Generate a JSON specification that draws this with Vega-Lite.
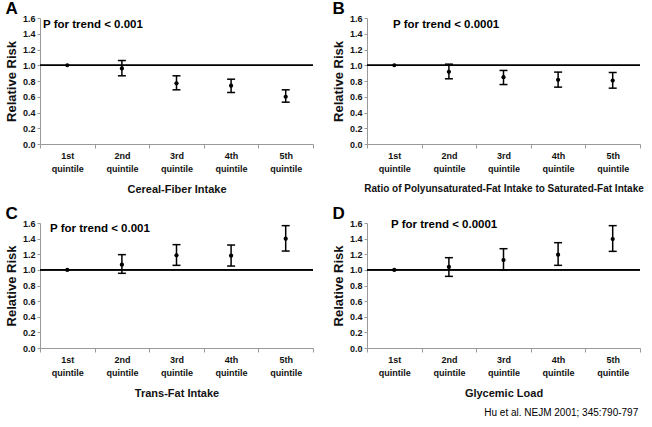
{
  "$schema": "https://vega.github.io/schema/vega-lite/v6.json",
  "background": "white",
  "padding": {"left": 5, "top": 0, "right": 2, "bottom": 4},
  "datasets": {
    "rr": [
      {"panel": "A", "q": "1st quintile", "rr": 1.0, "lo": null, "hi": null},
      {"panel": "A", "q": "2nd quintile", "rr": 0.96, "lo": 0.866, "hi": 1.06},
      {"panel": "A", "q": "3rd quintile", "rr": 0.77, "lo": 0.688, "hi": 0.866},
      {"panel": "A", "q": "4th quintile", "rr": 0.74, "lo": 0.654, "hi": 0.823},
      {"panel": "A", "q": "5th quintile", "rr": 0.60, "lo": 0.531, "hi": 0.688},
      {"panel": "B", "q": "1st quintile", "rr": 1.0, "lo": null, "hi": null},
      {"panel": "B", "q": "2nd quintile", "rr": 0.917, "lo": 0.828, "hi": 1.014},
      {"panel": "B", "q": "3rd quintile", "rr": 0.849, "lo": 0.755, "hi": 0.934},
      {"panel": "B", "q": "4th quintile", "rr": 0.815, "lo": 0.722, "hi": 0.913},
      {"panel": "B", "q": "5th quintile", "rr": 0.806, "lo": 0.709, "hi": 0.908},
      {"panel": "C", "q": "1st quintile", "rr": 1.0, "lo": null, "hi": null},
      {"panel": "C", "q": "2nd quintile", "rr": 1.067, "lo": 0.956, "hi": 1.195},
      {"panel": "C", "q": "3rd quintile", "rr": 1.186, "lo": 1.058, "hi": 1.323},
      {"panel": "C", "q": "4th quintile", "rr": 1.182, "lo": 1.049, "hi": 1.318},
      {"panel": "C", "q": "5th quintile", "rr": 1.399, "lo": 1.241, "hi": 1.566},
      {"panel": "D", "q": "1st quintile", "rr": 1.0, "lo": null, "hi": null},
      {"panel": "D", "q": "2nd quintile", "rr": 1.037, "lo": 0.917, "hi": 1.156},
      {"panel": "D", "q": "3rd quintile", "rr": 1.126, "lo": 0.998, "hi": 1.271},
      {"panel": "D", "q": "4th quintile", "rr": 1.194, "lo": 1.058, "hi": 1.348},
      {"panel": "D", "q": "5th quintile", "rr": 1.395, "lo": 1.237, "hi": 1.566}
    ],
    "notes": [
      {"panel": "A", "q": "1st quintile", "y": 1.51, "label": "P for trend < 0.001"},
      {"panel": "B", "q": "1st quintile", "y": 1.51, "label": "P for trend < 0.0001"},
      {"panel": "C", "q": "1st quintile", "y": 1.52, "label": "P for trend < 0.001"},
      {"panel": "D", "q": "1st quintile", "y": 1.57, "label": "P for trend < 0.0001"}
    ]
  },
  "title": {
    "text": "Hu et al. NEJM 2001; 345:790-797",
    "orient": "bottom",
    "anchor": "end",
    "font": "Liberation Sans",
    "fontSize": 10,
    "fontWeight": "normal",
    "color": "#000000",
    "offset": 10,
    "dx": -5
  },
  "columns": 2,
  "spacing": {"column": 18, "row": 11},
  "concat": [
    {
      "title": {"text": "A"},
      "width": 273, "height": 126,
      "data": {"name": "rr"},
      "transform": [{"filter": "datum.panel === 'A'"}],
      "encoding": {
        "x": {"field": "q", "type": "nominal", "title": "Cereal-Fiber Intake",
              "scale": {"domain": ["1st quintile", "2nd quintile", "3rd quintile", "4th quintile", "5th quintile"], "paddingInner": 0, "paddingOuter": 0}},
        "y": {"type": "quantitative", "title": "Relative Risk", "scale": {"domain": [0, 1.6]},
              "axis": {"values": [0, 0.2, 0.4, 0.6, 0.8, 1.0, 1.2, 1.4, 1.6], "format": ".1f"}}
      },
      "layer": [
        {"mark": {"type": "rule", "color": "#000", "strokeWidth": 1}, "encoding": {"y": {"datum": 1}, "x": null}},
        {"mark": {"type": "rule", "color": "#000", "strokeWidth": 1.5}, "encoding": {"y": {"field": "lo"}, "y2": {"field": "hi"}}},
        {"mark": {"type": "tick", "color": "#000", "size": 8, "thickness": 1.5, "opacity": 1}, "encoding": {"y": {"field": "lo"}}},
        {"mark": {"type": "tick", "color": "#000", "size": 8, "thickness": 1.5, "opacity": 1}, "encoding": {"y": {"field": "hi"}}},
        {"mark": {"type": "point", "filled": true, "color": "#000", "size": 18, "opacity": 1}, "encoding": {"y": {"field": "rr"}}},
        {"data": {"name": "notes"}, "transform": [{"filter": "datum.panel === 'A'"}],
         "mark": {"type": "text", "align": "left", "baseline": "middle", "dx": 3, "font": "Liberation Sans", "fontWeight": "bold", "fontSize": 11.5, "color": "#000"},
         "encoding": {"x": {"field": "q", "type": "nominal", "bandPosition": 0}, "y": {"field": "y"}, "text": {"field": "label"}}}
      ]
    },
    {
      "title": {"text": "B"},
      "width": 273, "height": 126,
      "data": {"name": "rr"},
      "transform": [{"filter": "datum.panel === 'B'"}],
      "encoding": {
        "x": {"field": "q", "type": "nominal", "title": "Ratio of Polyunsaturated-Fat Intake to Saturated-Fat Intake",
              "axis": {"titleFontSize": 10},
              "scale": {"domain": ["1st quintile", "2nd quintile", "3rd quintile", "4th quintile", "5th quintile"], "paddingInner": 0, "paddingOuter": 0}},
        "y": {"type": "quantitative", "title": "Relative Risk", "scale": {"domain": [0, 1.6]},
              "axis": {"values": [0, 0.2, 0.4, 0.6, 0.8, 1.0, 1.2, 1.4, 1.6], "format": ".1f"}}
      },
      "layer": [
        {"mark": {"type": "rule", "color": "#000", "strokeWidth": 1}, "encoding": {"y": {"datum": 1}, "x": null}},
        {"mark": {"type": "rule", "color": "#000", "strokeWidth": 1.5}, "encoding": {"y": {"field": "lo"}, "y2": {"field": "hi"}}},
        {"mark": {"type": "tick", "color": "#000", "size": 8, "thickness": 1.5, "opacity": 1}, "encoding": {"y": {"field": "lo"}}},
        {"mark": {"type": "tick", "color": "#000", "size": 8, "thickness": 1.5, "opacity": 1}, "encoding": {"y": {"field": "hi"}}},
        {"mark": {"type": "point", "filled": true, "color": "#000", "size": 18, "opacity": 1}, "encoding": {"y": {"field": "rr"}}},
        {"data": {"name": "notes"}, "transform": [{"filter": "datum.panel === 'B'"}],
         "mark": {"type": "text", "align": "left", "baseline": "middle", "dx": 26, "font": "Liberation Sans", "fontWeight": "bold", "fontSize": 11.5, "color": "#000"},
         "encoding": {"x": {"field": "q", "type": "nominal", "bandPosition": 0}, "y": {"field": "y"}, "text": {"field": "label"}}}
      ]
    },
    {
      "title": {"text": "C"},
      "width": 273, "height": 125,
      "data": {"name": "rr"},
      "transform": [{"filter": "datum.panel === 'C'"}],
      "encoding": {
        "x": {"field": "q", "type": "nominal", "title": "Trans-Fat Intake",
              "scale": {"domain": ["1st quintile", "2nd quintile", "3rd quintile", "4th quintile", "5th quintile"], "paddingInner": 0, "paddingOuter": 0}},
        "y": {"type": "quantitative", "title": "Relative Risk", "scale": {"domain": [0, 1.6]},
              "axis": {"values": [0, 0.2, 0.4, 0.6, 0.8, 1.0, 1.2, 1.4, 1.6], "format": ".1f"}}
      },
      "layer": [
        {"mark": {"type": "rule", "color": "#000", "strokeWidth": 1}, "encoding": {"y": {"datum": 1}, "x": null}},
        {"mark": {"type": "rule", "color": "#000", "strokeWidth": 1.5}, "encoding": {"y": {"field": "lo"}, "y2": {"field": "hi"}}},
        {"mark": {"type": "tick", "color": "#000", "size": 8, "thickness": 1.5, "opacity": 1}, "encoding": {"y": {"field": "lo"}}},
        {"mark": {"type": "tick", "color": "#000", "size": 8, "thickness": 1.5, "opacity": 1}, "encoding": {"y": {"field": "hi"}}},
        {"mark": {"type": "point", "filled": true, "color": "#000", "size": 18, "opacity": 1}, "encoding": {"y": {"field": "rr"}}},
        {"data": {"name": "notes"}, "transform": [{"filter": "datum.panel === 'C'"}],
         "mark": {"type": "text", "align": "left", "baseline": "middle", "dx": 10, "font": "Liberation Sans", "fontWeight": "bold", "fontSize": 11.5, "color": "#000"},
         "encoding": {"x": {"field": "q", "type": "nominal", "bandPosition": 0}, "y": {"field": "y"}, "text": {"field": "label"}}}
      ]
    },
    {
      "title": {"text": "D"},
      "width": 273, "height": 125,
      "data": {"name": "rr"},
      "transform": [{"filter": "datum.panel === 'D'"}],
      "encoding": {
        "x": {"field": "q", "type": "nominal", "title": "Glycemic Load",
              "scale": {"domain": ["1st quintile", "2nd quintile", "3rd quintile", "4th quintile", "5th quintile"], "paddingInner": 0, "paddingOuter": 0}},
        "y": {"type": "quantitative", "title": "Relative Risk", "scale": {"domain": [0, 1.6]},
              "axis": {"values": [0, 0.2, 0.4, 0.6, 0.8, 1.0, 1.2, 1.4, 1.6], "format": ".1f"}}
      },
      "layer": [
        {"mark": {"type": "rule", "color": "#000", "strokeWidth": 1}, "encoding": {"y": {"datum": 1}, "x": null}},
        {"mark": {"type": "rule", "color": "#000", "strokeWidth": 1.5}, "encoding": {"y": {"field": "lo"}, "y2": {"field": "hi"}}},
        {"mark": {"type": "tick", "color": "#000", "size": 8, "thickness": 1.5, "opacity": 1}, "encoding": {"y": {"field": "lo"}}},
        {"mark": {"type": "tick", "color": "#000", "size": 8, "thickness": 1.5, "opacity": 1}, "encoding": {"y": {"field": "hi"}}},
        {"mark": {"type": "point", "filled": true, "color": "#000", "size": 18, "opacity": 1}, "encoding": {"y": {"field": "rr"}}},
        {"data": {"name": "notes"}, "transform": [{"filter": "datum.panel === 'D'"}],
         "mark": {"type": "text", "align": "left", "baseline": "middle", "dx": 24, "font": "Liberation Sans", "fontWeight": "bold", "fontSize": 11.5, "color": "#000"},
         "encoding": {"x": {"field": "q", "type": "nominal", "bandPosition": 0}, "y": {"field": "y"}, "text": {"field": "label"}}}
      ]
    }
  ],
  "config": {
    "view": {"stroke": null},
    "font": "Liberation Sans",
    "title": {"font": "Liberation Sans", "fontSize": 17, "fontWeight": "bold", "anchor": "start", "color": "#000", "offset": -4},
    "axis": {
      "grid": false,
      "domainColor": "#999999",
      "tickColor": "#999999",
      "labelColor": "#111111",
      "labelFont": "Liberation Sans",
      "labelFontWeight": "bold",
      "labelFontSize": 9,
      "titleFont": "Liberation Sans",
      "titleFontWeight": "bold",
      "titleColor": "#111111"
    },
    "axisY": {
      "tickSize": 3,
      "labelPadding": 2,
      "titleFontSize": 13,
      "titlePadding": 4
    },
    "axisX": {
      "labelAngle": 0,
      "tickBand": "extent",
      "tickSize": 4,
      "labelPadding": 3,
      "labelBaseline": "top",
      "labelLineHeight": 13,
      "labelExpr": "split(datum.label, ' ')",
      "titleFontSize": 11,
      "titlePadding": 10
    }
  }
}
